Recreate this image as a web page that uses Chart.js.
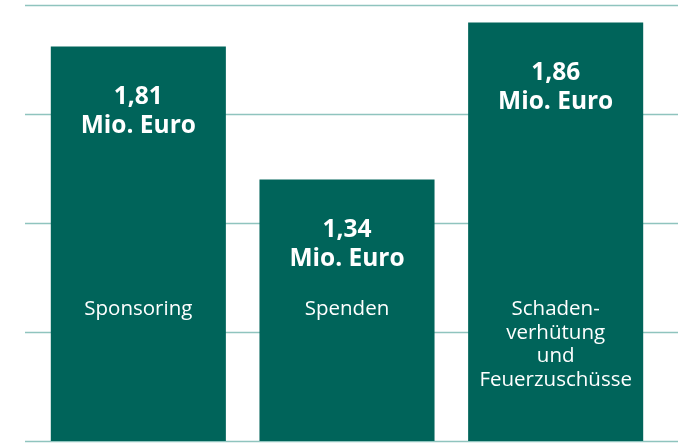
<!DOCTYPE html>
<html>
<head>
<meta charset="utf-8">
<script src="https://cdn.jsdelivr.net/npm/chart.js@4/dist/chart.umd.min.js"></script>
<style>
  html, body { margin: 0; padding: 0; background: #fff; }
  #wrap { width: 678px; height: 443px; position: relative; }
</style>
</head>
<body>
<div id="wrap"><canvas id="chart"></canvas></div>
<script>
// DATA
const categories = [["Sponsoring"], ["Spenden"], ["Schaden-", "verhütung", "und", "Feuerzuschüsse"]];
// bar heights as drawn in the graphic (Mio. Euro scale 0..2)
const barHeights = [1.81, 1.20, 1.92];
// printed values
const valueLabels = ["1,81", "1,34", "1,86"];
const unitLabel = "Mio. Euro";
const yTicks = [0, 0.5, 1, 1.5, 2];

const barColor = "#00645a";
const gridColor = "#8fc4be";

// grid lines run wider than the bars
const gridPlugin = {
  id: "wideGrid",
  beforeDatasetsDraw(chart) {
    const ctx = chart.ctx;
    const y = chart.scales.y;
    ctx.save();
    ctx.strokeStyle = gridColor;
    ctx.lineWidth = 1.5;
    yTicks.forEach(t => {
      const py = Math.round(y.getPixelForValue(t)) + 0.5;
      ctx.beginPath();
      ctx.moveTo(25, py);
      ctx.lineTo(chart.width, py);
      ctx.stroke();
    });
    ctx.restore();
  }
};

// labels inside the bars
const labelPlugin = {
  id: "barLabels",
  afterDatasetsDraw(chart) {
    const ctx = chart.ctx;
    const meta = chart.getDatasetMeta(0);
    const y = chart.scales.y;
    ctx.save();
    ctx.fillStyle = "#ffffff";
    ctx.textAlign = "center";
    ctx.textBaseline = "alphabetic";
    meta.data.forEach((bar, i) => {
      ctx.font = "bold 24.5px 'Open Sans', sans-serif";
      ctx.fillText(valueLabels[i], bar.x, bar.y + 58);
      ctx.fillText(unitLabel, bar.x, bar.y + 87);

      ctx.font = "20.5px 'Open Sans', sans-serif";
      const base = y.getPixelForValue(0) - 126;
      categories[i].forEach((line, j) => {
        ctx.fillText(line, bar.x, base + j * 23.7);
      });
    });
    ctx.restore();
  }
};

new Chart(document.getElementById("chart"), {
  type: "bar",
  data: {
    labels: categories.map(c => c.join(" ")),
    datasets: [{
      data: barHeights,
      backgroundColor: barColor,
      borderWidth: 0,
      barPercentage: 0.839,
      categoryPercentage: 1
    }]
  },
  options: {
    responsive: true,
    maintainAspectRatio: false,
    animation: false,
    layout: { padding: { left: 34, right: 18, top: 5, bottom: 2 } },
    plugins: {
      legend: { display: false },
      tooltip: { enabled: false }
    },
    scales: {
      x: { display: false },
      y: { display: false, min: 0, max: 2 }
    }
  },
  plugins: [gridPlugin, labelPlugin]
});
</script>
</body>
</html>
